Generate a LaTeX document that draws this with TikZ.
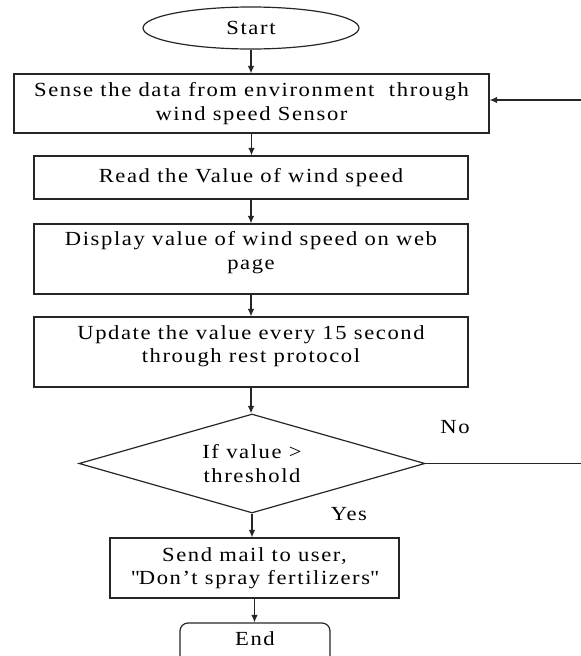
\documentclass[tikz,border=0pt]{standalone}
\usepackage{fontspec}
\setmainfont{Liberation Serif}[FakeStretch=1.13, LetterSpace=8]
\usetikzlibrary{shapes.geometric,arrows.meta}

\tikzset{
  flowline/.style={line width=1.2pt, draw=black!85},
  flowarrow/.style={flowline, -{Latex[length=7.5pt,width=6.5pt]}},
  proc/.style={flowline, rectangle, inner sep=0pt, align=center,
    font=\fontsize{20}{23.5}\selectfont},
  term/.style={flowline, ellipse, inner sep=0pt,
    font=\fontsize{20}{23.5}\selectfont},
  endbox/.style={proc, rounded corners=8pt},
  decision/.style={flowline, diamond, inner sep=0pt, aspect=3.5, align=center,
    font=\fontsize{20}{23.5}\selectfont},
  branch/.style={font=\fontsize{20}{23.5}\selectfont, inner sep=0pt, anchor=base}
}

\begin{document}
\begin{tikzpicture}[x=1pt, y=-1pt]
  \useasboundingbox (0,0) rectangle (581,656);
  \clip (0,0) rectangle (581,656);

  % process chain
  \node[term, minimum width=216pt, minimum height=42pt] (start) at (251,28) {Start};
  \node[proc, minimum width=475pt, minimum height=59pt] (sense) at (251.5,103.5)
    {Sense the data from environment\ \ through\\ wind speed Sensor};
  \node[proc, minimum width=434pt, minimum height=43pt] (read) at (251,177.5)
    {Read the Value of wind speed};
  \node[proc, minimum width=434pt, minimum height=70pt, text depth=17pt] (disp) at (251,259)
    {Display value of wind speed on web\\ page};
  \node[proc, minimum width=434pt, minimum height=70pt, text depth=16pt] (upd) at (251,352)
    {Update the value every 15 second\\ through rest protocol};
  \node[decision, minimum width=346pt, minimum height=99pt] (dec) at (252,463.5)
    {If value >\\ threshold};
  \node[proc, minimum width=289pt, minimum height=60pt] (mail) at (254.5,568)
    {Send mail to user,\\ \textquotedbl Don’t spray fertilizers\textquotedbl};
  \node[endbox, minimum width=150pt, minimum height=50pt, text depth=19pt] (end) at (255,648)
    {End};

  % branch labels
  \node[branch] (no) at (455,433) {No};
  \node[branch] (yes) at (349,520) {Yes};

  % connectors
  \draw[flowarrow] (start.south) -- (start.south |- sense.north);
  \draw[flowarrow] (sense.south) -- (sense.south |- read.north);
  \draw[flowarrow] (read.south) -- (read.south |- disp.north);
  \draw[flowarrow] (disp.south) -- (disp.south |- upd.north);
  \draw[flowarrow] (upd.south) -- (upd.south |- dec.north);
  \draw[flowarrow] (dec.south) -- (dec.south |- mail.north);
  \draw[flowarrow] (mail.south) -- (mail.south |- end.north);

  % "No" branch loops back to the sensing step
  \coordinate (loopout) at (581,463.5);
  \coordinate (loopin) at (581,100);
  \draw[flowline] (dec.east) -- (loopout);
  \draw[flowarrow] (loopin) -- (sense.east |- loopin);
\end{tikzpicture}
\end{document}
